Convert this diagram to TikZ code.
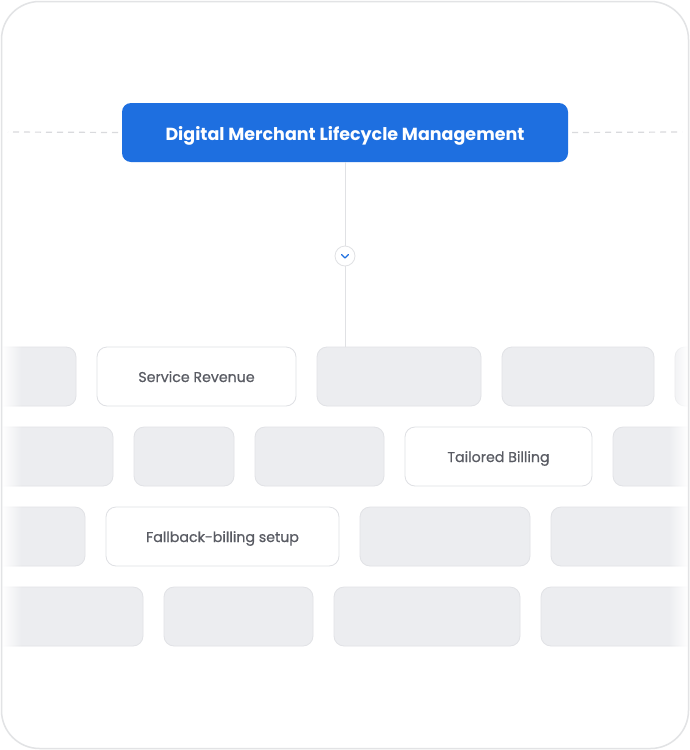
\documentclass[tikz,border=0pt]{standalone}
\usepackage{fontspec}
\setmainfont{Poppins}
\newfontfamily\medfont[FakeBold=0.6]{Poppins}
\usetikzlibrary{fadings}
\definecolor{blueM}{HTML}{1E6FE0}
\definecolor{gfill}{HTML}{ECEDF0}
\definecolor{gline}{HTML}{E1E2E6}
\definecolor{wline}{HTML}{DFE0E4}
\definecolor{txt}{HTML}{595B63}
\definecolor{frameC}{HTML}{E2E3E5}
\definecolor{conn}{HTML}{E0E1E4}
\definecolor{dashC}{HTML}{D9DADD}
\tikzset{
  gbox/.style={draw=gline, fill=gfill, rounded corners=10pt, line width=0.8pt,
    minimum height=59pt, inner sep=0pt, outer sep=0pt, anchor=north west},
  wbox/.style={draw=wline, fill=white, rounded corners=10pt, line width=0.8pt,
    minimum height=59pt, inner sep=0pt, outer sep=0pt, anchor=north west,
    text height=11pt, text depth=0pt,
    text=txt, font=\medfont\fontsize{14.2pt}{16pt}\selectfont},
  titlebox/.style={fill=blueM, rounded corners=9pt, minimum width=446pt,
    minimum height=59pt, inner sep=0pt, outer sep=0pt, text=white,
    text height=16pt, text depth=0pt,
    font=\fontsize{17.5pt}{20pt}\selectfont\bfseries},
  connline/.style={draw=conn, line width=1pt},
  dashline/.style={draw=dashC, line width=1.2pt, dash pattern=on 6pt off 5pt},
}
\begin{document}
\begin{tikzpicture}[x=1pt,y=-1pt]
\useasboundingbox (0,0) rectangle (690,750);
\fill[white] (0,0) rectangle (690,750);
% title
\node[titlebox] (title) at (345,132.5) {Digital Merchant Lifecycle Management};
\coordinate (dl) at (8,132);
\coordinate (dr) at (682,132);
\draw[dashline] (title.west) ++(-4,0) -- (dl);
\draw[dashline] (title.east) ++(4,0) -- (dr);
% boxes clipped to frame
\begin{scope}
\clip[rounded corners=38pt] (2,2) rectangle (688,748);
% row 1
\node[gbox, minimum width=120pt] (r1a) at (-44,347) {};
\node[wbox, minimum width=199pt] (r1b) at (97,347) {Service Revenue};
\node[gbox, minimum width=164pt] (r1c) at (317,347) {};
\node[gbox, minimum width=152pt] (r1d) at (502,347) {};
\node[gbox, minimum width=120pt] (r1e) at (675,347) {};
% row 2
\node[gbox, minimum width=150pt] (r2a) at (-37,427) {};
\node[gbox, minimum width=100pt] (r2b) at (134,427) {};
\node[gbox, minimum width=129pt] (r2c) at (255,427) {};
\node[wbox, minimum width=187pt] (r2d) at (405,427) {Tailored Billing};
\node[gbox, minimum width=150pt] (r2e) at (613,427) {};
% row 3
\node[gbox, minimum width=130pt] (r3a) at (-45,507) {};
\node[wbox, minimum width=233pt] (r3b) at (106,507) {Fallback-billing setup};
\node[gbox, minimum width=170pt] (r3c) at (360,507) {};
\node[gbox, minimum width=170pt] (r3d) at (551,507) {};
% row 4
\node[gbox, minimum width=180pt] (r4a) at (-37,587) {};
\node[gbox, minimum width=149pt] (r4b) at (164,587) {};
\node[gbox, minimum width=186pt] (r4c) at (334,587) {};
\node[gbox, minimum width=170pt] (r4d) at (541,587) {};
% edge fades
\fill[white, path fading=east] (2,340) rectangle (22,655);
\fill[white, path fading=west] (668,340) rectangle (688,655);
\end{scope}
% connector with chevron
\node[circle, draw=conn, fill=white, line width=0.8pt, minimum size=20pt, inner sep=0pt] (chev) at (345,256) {};
\draw[connline] (title.south) -- (chev.north);
\draw[connline] (chev.south) -- (chev |- r1c.north);
\draw[blueM, line width=1.2pt, line cap=round, line join=round]
  ([shift={(-3.5,-1.5)}]chev.center) -- ([shift={(0,2)}]chev.center) -- ([shift={(3.5,-1.5)}]chev.center);
% frame
\draw[frameC, line width=1.5pt, rounded corners=38pt] (1.5,1.5) rectangle (688.5,748.5);
\end{tikzpicture}
\end{document}
